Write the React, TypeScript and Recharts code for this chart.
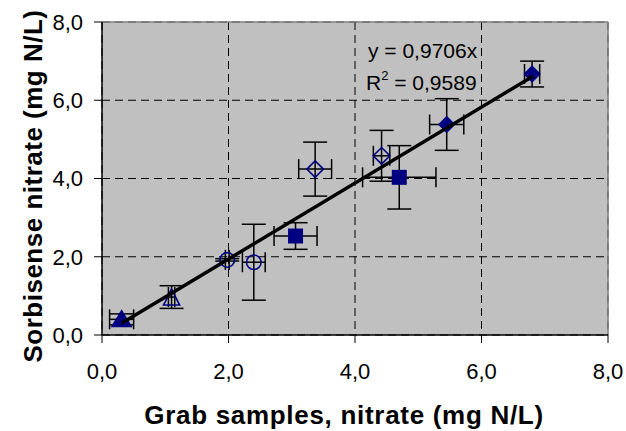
import React from 'react';
import {
  ScatterChart,
  Scatter,
  XAxis,
  YAxis,
  CartesianGrid,
  ErrorBar,
  ReferenceLine,
  Label,
} from 'recharts';

const NAVY = '#000080';
const FONT = '"Liberation Sans", Arial, sans-serif';

// axis ticks
const xTicks = [0, 2, 4, 6, 8];
const yTicks = [0, 2, 4, 6, 8];

// series: filled triangle
const filledTriangleX = [0.31];
const filledTriangleY = [0.4];
const filledTriangleEx = [0.19];
const filledTriangleEy = [0.14];

// series: open triangle
const openTriangleX = [1.1];
const openTriangleY = [0.97];
const openTriangleEx = [0.05];
const openTriangleEy = [0.29];

// series: open circle
const openCircleX = [1.98, 2.4];
const openCircleY = [1.92, 1.86];
const openCircleEx = [0.03, 0.18];
const openCircleEy = [0.03, 0.97];

// series: filled square
const filledSquareX = [3.06, 4.7];
const filledSquareY = [2.53, 4.03];
const filledSquareEx = [0.34, 0.58];
const filledSquareEy = [0.34, 0.81];

// series: open diamond
const openDiamondX = [3.37, 4.42];
const openDiamondY = [4.24, 4.58];
const openDiamondEx = [0.26, 0.13];
const openDiamondEy = [0.69, 0.65];

// series: filled diamond
const filledDiamondX = [5.45, 6.8];
const filledDiamondY = [5.38, 6.67];
const filledDiamondEx = [0.27, 0.12];
const filledDiamondEy = [0.66, 0.33];

// trend line y = 0,9706x
const trendSlope = 0.9706;
const trendX = [0.31, 6.82];
const equationText = 'y = 0,9706x';
const r2Text = ' = 0,9589';

const xTitle = 'Grab samples, nitrate (mg N/L)';
const yTitle = 'Sorbisense nitrate (mg N/L)';

const build = (xs: number[], ys: number[], exs: number[], eys: number[]) =>
  xs.map((x, i) => ({ x, y: ys[i], ex: exs[i], ey: eys[i] }));

const filledTriangleData = build(filledTriangleX, filledTriangleY, filledTriangleEx, filledTriangleEy);
const openTriangleData = build(openTriangleX, openTriangleY, openTriangleEx, openTriangleEy);
const openCircleData = build(openCircleX, openCircleY, openCircleEx, openCircleEy);
const filledSquareData = build(filledSquareX, filledSquareY, filledSquareEx, filledSquareEy);
const openDiamondData = build(openDiamondX, openDiamondY, openDiamondEx, openDiamondEy);
const filledDiamondData = build(filledDiamondX, filledDiamondY, filledDiamondEx, filledDiamondEy);
const trendData = trendX.map((x) => ({ x, y: trendSlope * x }));

const fmt = (v: number) => v.toFixed(1).replace('.', ',');

const FilledTriangle = (p: any) => {
  const { cx, cy } = p;
  return (
    <polygon
      points={`${cx},${cy - 10} ${cx + 11},${cy + 8} ${cx - 11},${cy + 8}`}
      fill={NAVY}
    />
  );
};
const OpenTriangle = (p: any) => {
  const { cx, cy } = p;
  return (
    <polygon
      points={`${cx},${cy - 8} ${cx + 8},${cy + 8} ${cx - 8},${cy + 8}`}
      fill="none"
      stroke={NAVY}
      strokeWidth={1.6}
    />
  );
};
const OpenCircle = (p: any) => {
  const { cx, cy } = p;
  return <circle cx={cx} cy={cy} r={7.3} fill="none" stroke={NAVY} strokeWidth={1.6} />;
};
const FilledSquare = (p: any) => {
  const { cx, cy } = p;
  return <rect x={cx - 7.5} y={cy - 7.5} width={15} height={15} fill={NAVY} />;
};
const OpenDiamond = (p: any) => {
  const { cx, cy } = p;
  const h = 8.3;
  return (
    <polygon
      points={`${cx},${cy - h} ${cx + h},${cy} ${cx},${cy + h} ${cx - h},${cy}`}
      fill="none"
      stroke={NAVY}
      strokeWidth={1.6}
    />
  );
};
const FilledDiamond = (p: any) => {
  const { cx, cy } = p;
  const h = 8.8;
  return (
    <polygon
      points={`${cx},${cy - h} ${cx + h},${cy} ${cx},${cy + h} ${cx - h},${cy}`}
      fill={NAVY}
    />
  );
};
const NoShape = () => <g />;

const errBars = () => [
  <ErrorBar key="ex" dataKey="ex" direction="x" width={10} stroke="#000" strokeWidth={1.5} />,
  <ErrorBar key="ey" dataKey="ey" direction="y" width={12} stroke="#000" strokeWidth={1.5} />,
];

export default function App() {
  return (
    <div style={{ position: 'absolute', left: 0, top: 0, width: 626, height: 431, background: '#fff' }}>
      <ScatterChart
        width={626}
        height={431}
        margin={{ top: 22, right: 18, left: 0, bottom: 0 }}
      >
        <CartesianGrid
          fill="#c0c0c0"
          stroke="#000"
          strokeDasharray="8 5"
          strokeWidth={1}
          fillOpacity={1}
        />
        <ReferenceLine y={8} stroke="#808080" strokeWidth={1.5} />
        <ReferenceLine x={8} stroke="#808080" strokeWidth={1.5} />
        <XAxis
          type="number"
          dataKey="x"
          domain={[0, 8]}
          ticks={xTicks}
          tickFormatter={fmt}
          height={96}
          tickSize={8}
          tickMargin={20}
          axisLine={{ stroke: '#000', strokeWidth: 1.5 }}
          tickLine={{ stroke: '#000', strokeWidth: 1 }}
          tick={{ fill: '#000', fontSize: 22, fontFamily: FONT }}
          allowDataOverflow
        >
          <Label
            content={() => (
              <text
                x={344}
                y={424}
                textAnchor="middle"
                fontFamily={FONT}
                fontWeight="bold"
                fontSize={26}
                letterSpacing={0.7}
                fill="#000"
              >
                {xTitle}
              </text>
            )}
          />
        </XAxis>
        <YAxis
          type="number"
          dataKey="y"
          domain={[0, 8]}
          ticks={yTicks}
          tickFormatter={fmt}
          width={102}
          tickSize={8}
          tickMargin={11}
          axisLine={{ stroke: '#000', strokeWidth: 1.5 }}
          tickLine={{ stroke: '#000', strokeWidth: 1 }}
          tick={{ fill: '#000', fontSize: 22, fontFamily: FONT }}
          allowDataOverflow
        >
          <Label
            content={() => (
              <text
                x={42}
                y={186}
                transform="rotate(-90 42 186)"
                textAnchor="middle"
                fontFamily={FONT}
                fontWeight="bold"
                fontSize={26}
                letterSpacing={0.5}
                fill="#000"
              >
                {yTitle}
              </text>
            )}
          />
        </YAxis>
        <Scatter data={filledTriangleData} shape={FilledTriangle} isAnimationActive={false}>
          {errBars()}
        </Scatter>
        <Scatter data={openTriangleData} shape={OpenTriangle} isAnimationActive={false}>
          {errBars()}
        </Scatter>
        <Scatter data={openCircleData} shape={OpenCircle} isAnimationActive={false}>
          {errBars()}
        </Scatter>
        <Scatter data={filledSquareData} shape={FilledSquare} isAnimationActive={false}>
          {errBars()}
        </Scatter>
        <Scatter data={openDiamondData} shape={OpenDiamond} isAnimationActive={false}>
          {errBars()}
        </Scatter>
        <Scatter data={filledDiamondData} shape={FilledDiamond} isAnimationActive={false}>
          {errBars()}
        </Scatter>
        <Scatter
          data={trendData}
          shape={NoShape}
          line={{ stroke: '#000', strokeWidth: 3.5 }}
          isAnimationActive={false}
        >
          <Label
            content={() => (
              <g fontFamily={FONT} fontSize={21} fill="#000">
                <text x={368} y={58}>{equationText}</text>
                <text x={366} y={90}>
                  R<tspan fontSize={13} dy={-10}>2</tspan>
                  <tspan dy={10}>{r2Text}</tspan>
                </text>
              </g>
            )}
          />
        </Scatter>
      </ScatterChart>
    </div>
  );
}
